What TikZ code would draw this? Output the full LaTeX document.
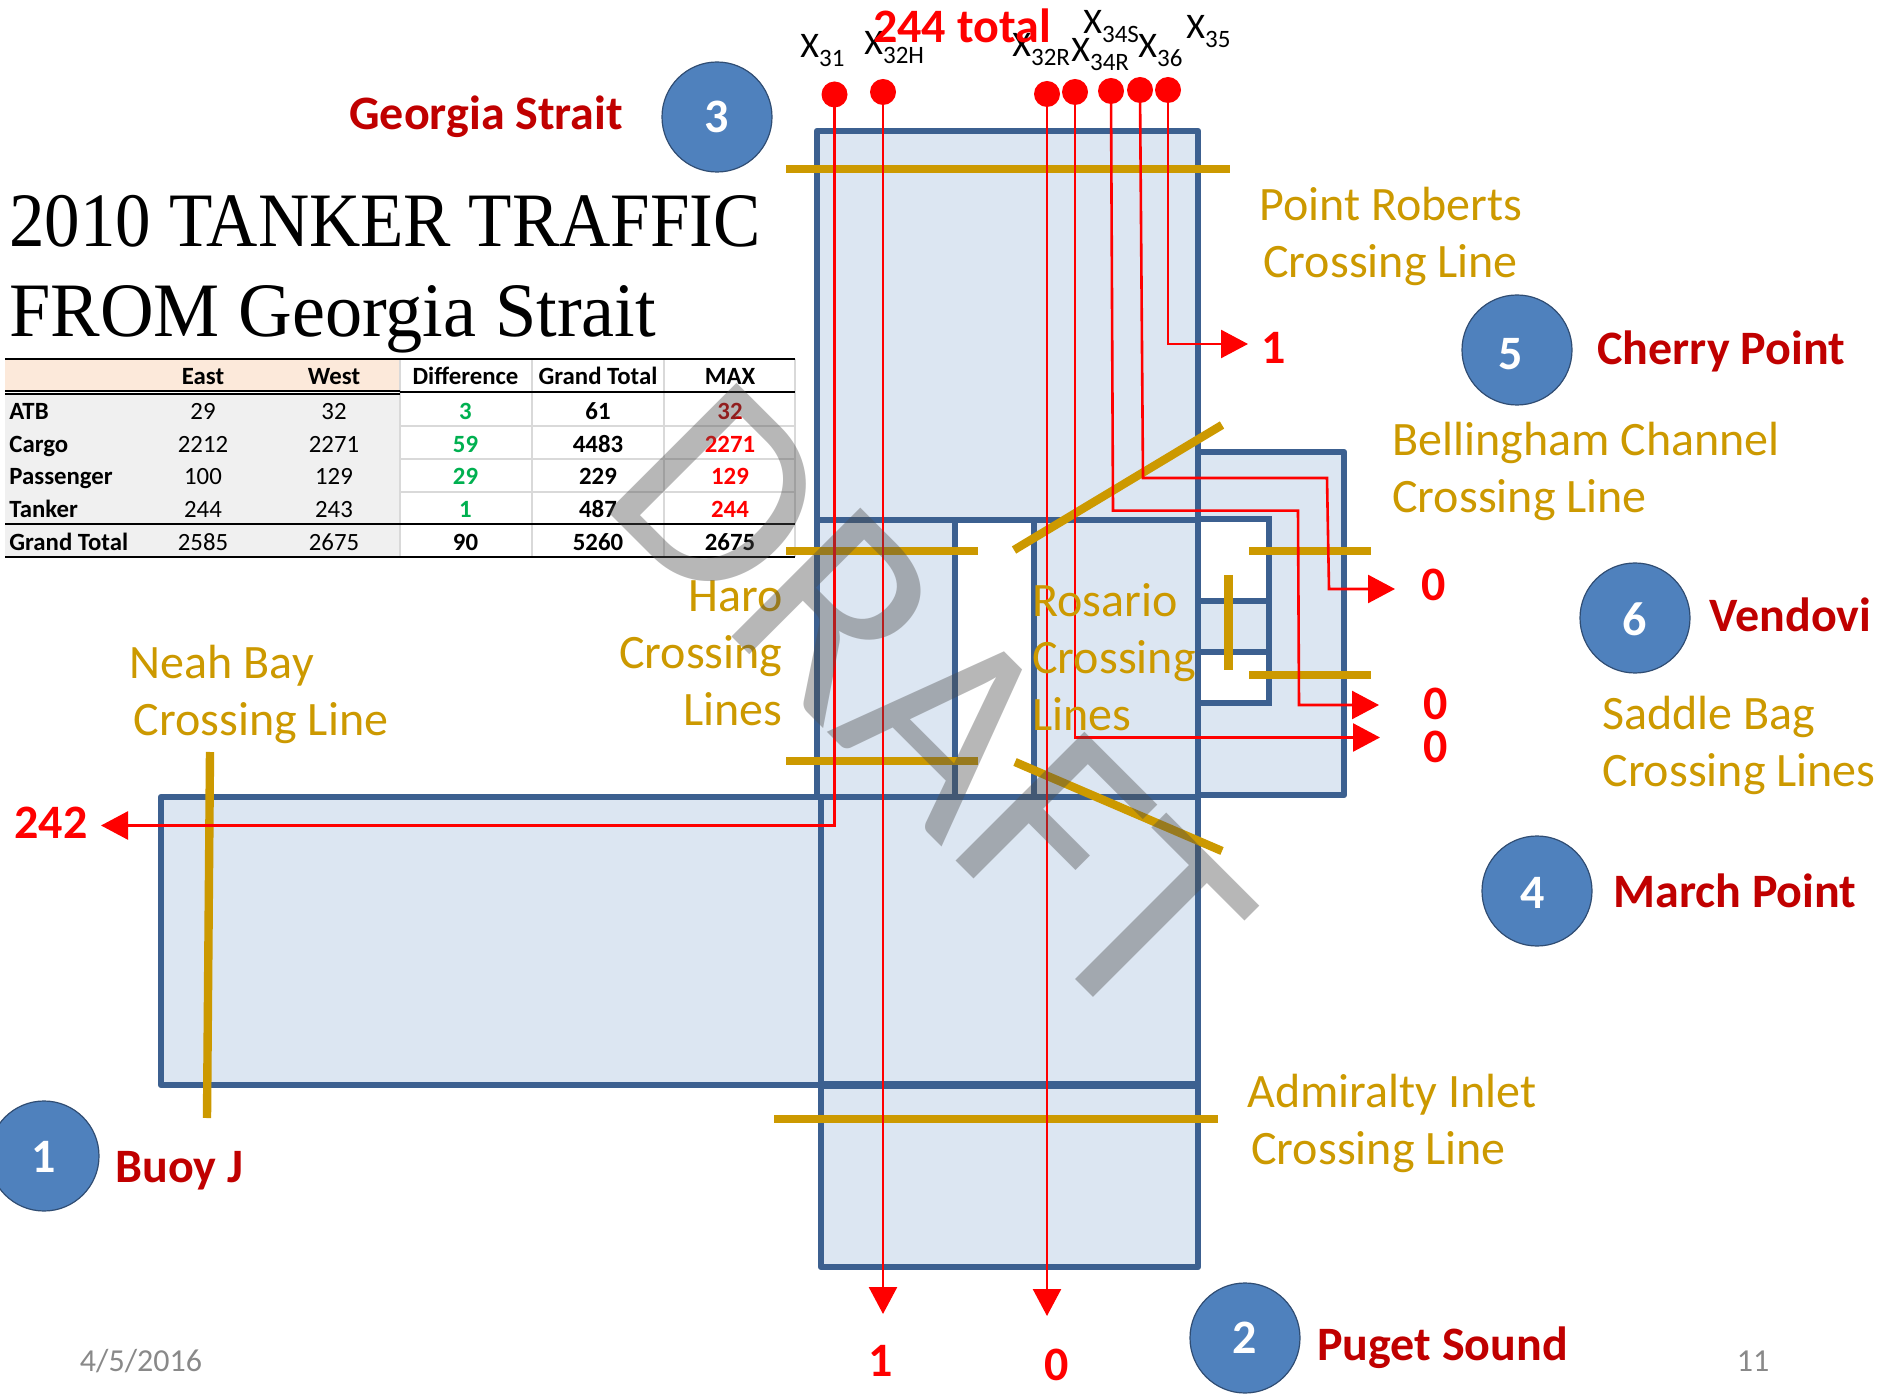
\documentclass[tikz,border=0pt]{standalone}
\usepackage{fontspec}
\setmainfont{Carlito}
\newfontfamily\titlefont{Liberation Serif}
\usetikzlibrary{arrows.meta}
\definecolor{boxfill}{HTML}{DCE6F2}
\definecolor{boxline}{HTML}{3C6090}
\definecolor{goldc}{HTML}{CC9900}
\definecolor{dred}{HTML}{C00000}
\definecolor{circ}{HTML}{4F81BD}
\definecolor{headfill}{HTML}{FCE9DA}
\definecolor{greyfill}{HTML}{F0F0F0}
\definecolor{gridc}{HTML}{D9D9D9}
\definecolor{greenc}{HTML}{00B050}
\definecolor{footc}{HTML}{898989}
\newcommand{\fs}[1]{\fontsize{#1}{#1}\selectfont}
\newcommand{\xs}[1]{X\raisebox{-4.5pt}{\fs{12.5}#1}}
\newcommand{\lowd}[2]{\raisebox{-#1}[\height][0pt]{#2}}
\tikzset{
 water/.style={draw=boxline,line width=3.2pt,fill=boxfill,line join=round},
 wline/.style={draw=boxline,line width=3.2pt,line join=round},
 cross/.style={draw=goldc,line width=4.2pt},
 flow/.style={draw=red,line width=1.3pt},
 flowa/.style={flow,-{Triangle[length=13.5pt,width=14pt,fill=red]}},
 dot/.style={circle,fill=red,inner sep=0pt,minimum size=13pt},
 site/.style={circle,fill=circ,draw=boxline!80!black,line width=.6pt,minimum size=55pt,inner sep=0pt,text=white,font=\bfseries\fs{24}},
 sitelab/.style={text=dred,font=\bfseries\fs{24},anchor=west,inner sep=0pt},
 goldlab/.style={text=goldc,font=\fontsize{24}{28.5}\selectfont,align=left,inner sep=0pt,anchor=west},
 cnt/.style={text=red,font=\bfseries\fs{24},inner sep=0pt},
 xl/.style={anchor=base west,font=\fs{18},inner sep=0pt,text=black},
 tc/.style={font=\fs{12.4},inner sep=0pt,text=black,text height=9.5pt,text depth=1.1pt},
 tb/.style={tc,font=\bfseries\fs{12.4}},
 tg/.style={tb,text=greenc},
 tr/.style={tb,text=red},
 foot/.style={text=footc,font=\fs{16},inner sep=0pt},
 ttl/.style={anchor=base west,inner sep=0pt,font=\titlefont\fs{38.5}},
}
\begin{document}
\begin{tikzpicture}[x=0.5pt,y=-0.5pt]
\useasboundingbox (0,0) rectangle (1880,1395);
% table
\fill[headfill] (5,360) rectangle (400,391);
\fill[greyfill] (5,394) rectangle (400,557);
\foreach \y in {426,459,492}{\draw[gridc,line width=1pt] (400,\y)--(795,\y);}
\foreach \x in {400,532,664,795}{\draw[gridc,line width=.7pt] (\x,359)--(\x,557);}
\draw[black,line width=1pt] (5,359)--(795,359);
\draw[black,line width=1pt] (5,391.5)--(400,391.5);
\draw[black,line width=1pt] (5,394.5)--(400,394.5);
\draw[black,line width=1pt] (400,392.5)--(795,392.5);
\draw[black,line width=1pt] (5,524)--(795,524);
\draw[black,line width=1.2pt] (5,557)--(795,557);
\node[tb] (hE) at (203,376) {East};
\node[tb] (hW) at (334,376) {West};
\node[tb] (hD) at (465.5,376) {Difference};
\node[tb] (hG) at (598,376) {Grand Total};
\node[tb] (hM) at (730,376) {MAX};
\node[tb,anchor=west] (r1) at (9,411) {ATB};
\node[tc] (r1E) at (203,411) {29};
\node[tc] (r1W) at (334,411) {32};
\node[tg] (r1D) at (465.5,411) {3};
\node[tb] (r1G) at (598,411) {61};
\node[tb,text=dred] (r1M) at (730,411) {32};
\node[tb,anchor=west] (r2) at (9,444) {Cargo};
\node[tc] (r2E) at (203,444) {2212};
\node[tc] (r2W) at (334,444) {2271};
\node[tg] (r2D) at (465.5,444) {59};
\node[tb] (r2G) at (598,444) {4483};
\node[tr] (r2M) at (730,444) {2271};
\node[tb,anchor=west] (r3) at (9,476) {Passenger};
\node[tc] (r3E) at (203,476) {100};
\node[tc] (r3W) at (334,476) {129};
\node[tg] (r3D) at (465.5,476) {29};
\node[tb] (r3G) at (598,476) {229};
\node[tr] (r3M) at (730,476) {129};
\node[tb,anchor=west] (r4) at (9,509) {Tanker};
\node[tc] (r4E) at (203,509) {244};
\node[tc] (r4W) at (334,509) {243};
\node[tg] (r4D) at (465.5,509) {1};
\node[tb] (r4G) at (598,509) {487};
\node[tr] (r4M) at (730,509) {244};
\node[tb,anchor=west] (r5) at (9,542) {Grand Total};
\node[tc] (r5E) at (203,542) {2585};
\node[tc] (r5W) at (334,542) {2675};
\node[tb] (r5D) at (465.5,542) {90};
\node[tb] (r5G) at (598,542) {5260};
\node[tb] (r5M) at (730,542) {2675};
% title
\node[ttl,xscale=.922] (t1) at (9,247) {2010 TANKER TRAFFIC};
\node[ttl,xscale=.965] (t2) at (9,337) {FROM Georgia Strait};
% water bodies
\path[water] (1198,452) rectangle (1344,795);
\path[draw=boxline,line width=3.2pt,fill=white] (1198,519) rectangle (1269,703);
\path[water] (1198,601) rectangle (1269,652);
\path[water] (817,131) rectangle (1198,520);
\path[water] (817,520) rectangle (955,797);
\path[water] (1034,520) rectangle (1198,797);
\path[water] (161,797) rectangle (821,1085);
\path[water] (821,797) rectangle (1198,1267);
\path[wline,line width=3.6pt] (821,1085)--(1198,1085);
% crossing lines
\draw[cross] (786,169)--(1230,169);
\draw[cross] (786,551)--(978,551);
\draw[cross] (786,761)--(978,761);
\draw[cross] (1014,550)--(1222,425);
\draw[cross] (1015,762)--(1222,851);
\draw[cross] (1249,551)--(1371,551);
\draw[cross] (1249,675)--(1371,675);
\draw[cross] (1228.5,575)--(1228.5,670);
\draw[cross] (210,752)--(207,1118);
\draw[cross] (774,1119)--(1218,1119);
% dots
\node[dot] (d31) at (834.5,94.5) {};
\node[dot] (d32H) at (883,92) {};
\node[dot] (d32R) at (1047,94) {};
\node[dot] (d34R) at (1075,92) {};
\node[dot] (d34S) at (1111,91) {};
\node[dot] (d36) at (1140,90) {};
\node[dot] (d35) at (1168,90) {};
% outputs
\node[cnt] (n242) at (51,823) {242};
\node[cnt] (n1a) at (1274,348) {1};
\node[cnt] (n0a) at (1434,585) {0};
\node[cnt] (n0b) at (1436,704) {0};
\node[cnt] (n0c) at (1436,747) {0};
\node[cnt] (n1b) at (881,1361) {1};
\node[cnt] (n0d) at (1057,1365) {0};
\coordinate (e31) at (101,825.5);
\coordinate (e32H) at (883,1314);
\coordinate (e32R) at (1047,1316);
\coordinate (e34R) at (1380,737.5);
\coordinate (e34S) at (1379,705);
\coordinate (e36) at (1395,589);
\coordinate (e35) at (1248,344);
\draw[flowa] (d31.center)--(834.5,825.5)--(e31);
\draw[flowa] (d32H.center)--(e32H);
\draw[flowa] (d32R.center)--(e32R);
\draw[flowa] (d34R.center)--(1075,737.5)--(e34R);
\draw[flowa] (d34S.center)--(1113,510.7)--(1298,510.7)--(1299,705)--(e34S);
\draw[flowa] (d36.center)--(1143,478)--(1327,478)--(1329,589)--(e36);
\draw[flowa] (d35.center)--(1168,344)--(e35);
% x labels
\node[xl] (x31) at (800,58) {\xs{31}};
\node[xl] (x32H) at (864,55) {\xs{32H}};
\node[xl] (x32R) at (1012,57) {\xs{32R}};
\node[xl] (x34R) at (1071,62) {\xs{34R}};
\node[xl] (x34S) at (1083,34) {\xs{34S}};
\node[xl] (x36) at (1138,58) {\xs{36}};
\node[xl] (x35) at (1186,39) {\xs{35}};
\node[cnt] (tot) at (962,26) {244 total};
% sites
\node[site] (s3) at (717,117) {3};
\node[site] (s5) at (1517,350) {\hspace*{-6pt}\lowd{1.8pt}{5}};
\node[site] (s6) at (1635,618) {\lowd{.6pt}{6}};
\node[site] (s4) at (1537,891) {\hspace*{-4.5pt}\lowd{1.2pt}{4}};
\node[site] (s1) at (44,1156) {\lowd{.6pt}{1}};
\node[site] (s2) at (1245,1338) {2};
\node[sitelab] (l3) at (349,116.5) {Georgia Strait};
\node[sitelab] (l5) at (1597,351.5) {Cherry Point};
\node[sitelab] (l6) at (1709,615) {Vendovi};
\node[sitelab] (l4) at (1613,891) {March Point};
\node[sitelab] (l1) at (115,1171) {Buoy J};
\node[sitelab] (l2) at (1317,1347.5) {Puget Sound};
% gold labels
\node[goldlab] (g1) at (1259,236.5) {Point Roberts\\\hspace{2pt}Crossing Line};
\node[goldlab] (g2) at (1392,471) {Bellingham Channel\\Crossing Line};
\node[goldlab] (g3) at (1602,745.5) {Saddle Bag\\Crossing Lines};
\node[goldlab] (g4) at (129.5,694.5) {Neah Bay\\\hspace{2pt}Crossing Line};
\node[goldlab] (g5) at (1247,1123.5) {Admiralty Inlet\\\hspace{2pt}Crossing Line};
\node[goldlab,align=right,anchor=east] (g6) at (783,653) {Haro\\Crossing\\Lines};
\node[goldlab] (g7) at (1032,657) {Rosario\\Crossing\\Lines};
% footer
\node[foot] (f1) at (141,1361) {4/5/2016};
\node[foot] (f2) at (1753,1361) {11};
% watermark
\node[rotate=-45,text=black!70,opacity=.4,font=\fs{142},inner sep=0pt] (wm) at (928,704) {DRAFT};
\end{tikzpicture}
\end{document}
